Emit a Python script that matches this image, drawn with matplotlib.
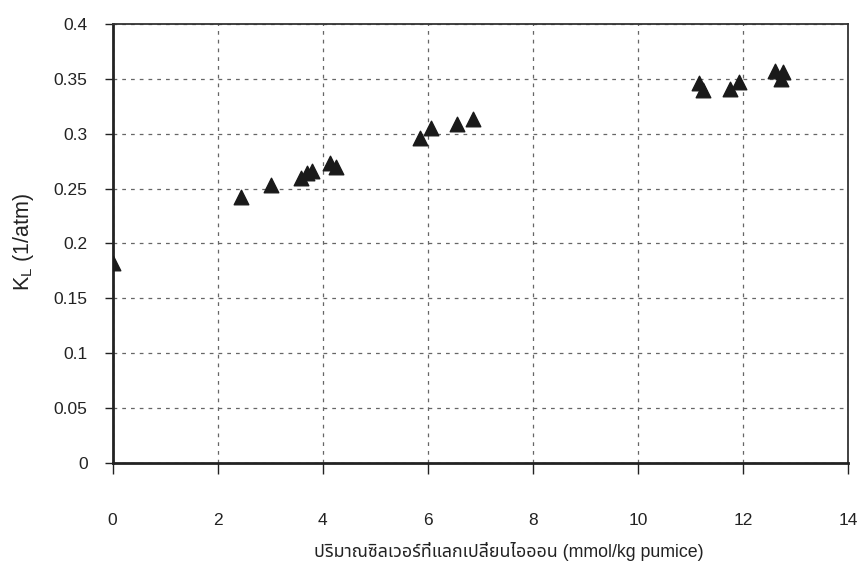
import matplotlib
matplotlib.use("Agg")
import matplotlib.pyplot as plt
from matplotlib import font_manager

# silver loaded (mmol/kg pumice) vs Langmuir constant K_L (1/atm)
silver = [0.0, 2.44, 3.02, 3.59, 3.70, 3.80, 4.13, 4.25,
          5.85, 6.07, 6.56, 6.86, 11.16, 11.24, 11.75, 11.93,
          12.61, 12.77, 12.73]
k_l = [0.182, 0.242, 0.253, 0.260, 0.264, 0.266, 0.273, 0.270,
       0.296, 0.305, 0.309, 0.313, 0.346, 0.340, 0.341, 0.347,
       0.357, 0.356, 0.350]

x_ticks = [0, 2, 4, 6, 8, 10, 12, 14]
y_ticks = [0, 0.05, 0.1, 0.15, 0.2, 0.25, 0.3, 0.35, 0.4]
y_tick_labels = ["0", "0.05", "0.1", "0.15", "0.2", "0.25", "0.3", "0.35", "0.4"]

# pick whatever installed fonts can draw Thai
installed = set(f.name for f in font_manager.fontManager.ttflist)
thai_candidates = ["Noto Sans Thai", "Noto Sans Thai UI", "Noto Serif Thai", "Loma",
                   "Garuda", "Norasi", "Sawasdee", "Tlwg Typo", "Kinnari",
                   "Waree", "Umpush", "Laksaman", "TH Sarabun New", "Tahoma"]
thai_fonts = [f for f in thai_candidates if f in installed]
for name in sorted(installed):
    if "thai" in name.lower() and name not in thai_fonts:
        thai_fonts.append(name)
label_family = ["Liberation Sans"] + thai_fonts + ["DejaVu Sans"]

plt.rcParams['font.family'] = ["Liberation Sans", "DejaVu Sans"]

fig = plt.figure(figsize=(8.6, 5.7), dpi=100)
ax = fig.add_axes([0.131, 0.188, 0.855, 0.770])

ax.scatter(silver, k_l, marker="^", s=110, color="#1a1a1a", zorder=3)

ax.set_xlim(0, 14)
ax.set_ylim(0, 0.4)
ax.set_xticks(x_ticks)
ax.set_yticks(y_ticks)
ax.set_yticklabels(y_tick_labels)

ax.grid(True, color="#666666", linestyle=(0, (3, 4)), linewidth=0.9)
ax.set_axisbelow(True)

ax.tick_params(axis="x", direction="out", length=8, width=1, pad=28,
               labelsize=12.5, colors="#222222")
ax.tick_params(axis="y", direction="out", length=6, width=1, pad=12,
               labelsize=12.5, colors="#222222")

for side in ["left", "bottom"]:
    ax.spines[side].set_linewidth(2.0)
    ax.spines[side].set_color("#222222")
for side in ["top", "right"]:
    ax.spines[side].set_linewidth(1.3)
    ax.spines[side].set_color("#333333")

fig.text(0.592, 0.032, "ปริมาณซิลเวอร์ที่แลกเปลี่ยนไอออน (mmol/kg pumice)",
         ha="center", va="center", fontsize=12.8, color="#222222",
         family=label_family)
fig.text(0.027, 0.575, r"K$_\mathregular{L}$ (1/atm)", rotation=90,
         ha="center", va="center", fontsize=15.5, color="#222222")

fig.savefig("out.png", dpi=100)
